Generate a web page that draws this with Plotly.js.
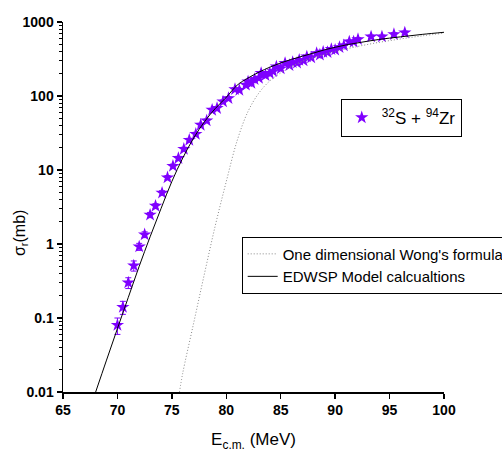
<!DOCTYPE html>
<html>
<head>
<meta charset="utf-8">
<script src="https://cdn.plot.ly/plotly-3.0.1.min.js"></script>
<style>html,body{margin:0;padding:0;background:#fff;}#chart{width:502px;height:452px;}</style>
</head>
<body>
<div id="chart"></div>
<script>
// Experimental data: 32S + 94Zr
var expE = [70.0, 70.5, 71.0, 71.5, 72.0, 72.5, 73.0, 73.5, 74.1, 74.6, 75.1, 75.6, 76.1, 76.6, 77.2, 77.65, 78.2, 78.7, 79.15, 79.7, 80.2, 80.8, 81.2, 81.8, 82.0, 82.3, 82.6, 83.0, 83.2, 83.6, 84.0, 84.3, 84.6, 85.0, 85.4, 85.8, 86.1, 86.5, 86.7, 87.1, 87.4, 87.8, 88.3, 88.6, 88.9, 89.3, 89.65, 90.0, 90.4, 90.8, 91.3, 91.7, 92.1, 93.3, 94.3, 95.4, 96.4];
var expSigma = [0.080, 0.14, 0.30, 0.51, 0.92, 1.34, 2.47, 3.26, 4.9, 7.9, 11.3, 14.4, 19.2, 25.4, 30.6, 40.6, 46.4, 64.7, 68.3, 83.8, 93, 123, 120, 141, 156, 150, 168, 175, 203, 190, 203, 215, 249, 235, 277, 260, 285, 280, 306, 300, 340, 330, 377, 360, 393, 390, 428, 420, 455, 480, 542, 540, 583, 633, 633, 682, 717];
var expErr = [0.02, 0.028, 0.05, 0.08, 0.1, 0.12, 0.2, 0.25, 0.35, 0.5, 0.7, 0.9, 1.1, 1.4, 1.7, 2.2, 2.5, 3.4, 3.6, 4.3, 4.8, 6.2, 6, 7, 8, 7.5, 8.5, 9, 10, 9.5, 10, 11, 12, 12, 14, 13, 14, 14, 15, 15, 17, 16, 19, 18, 20, 19, 21, 21, 23, 24, 27, 27, 29, 32, 32, 34, 36];

// EDWSP model calculations
var edwspE = [68, 69, 70, 71, 72, 73, 74, 75, 76, 77, 78, 79, 80, 81, 82, 83, 84, 85, 86, 87, 88, 89, 90, 91, 92, 94, 96, 98, 100];
var edwspSigma = [0.01, 0.027, 0.072, 0.19, 0.50, 1.25, 3.0, 7.0, 14.5, 27, 45, 68, 96, 140, 175, 210, 245, 280, 313, 345, 380, 420, 455, 490, 520, 580, 630, 680, 726];

// One dimensional Wong's formula
var wongE = [75.7, 76, 77, 78, 79, 80, 81, 82, 83, 84, 85, 86, 87, 88, 89, 90, 92, 94, 96, 98, 100];
var wongSigma = [0.01, 0.018, 0.085, 0.4, 1.8, 7, 25, 62, 110, 160, 205, 250, 295, 330, 365, 400, 465, 530, 590, 650, 705];

var yTickVals = [0.01, 0.1, 1, 10, 100, 1000];
var yTickText = ['0.01', '0.1', '1', '10', '100', '1000'];
var xTickVals = [65, 70, 75, 80, 85, 90, 95, 100];

var purple = '#7f00ff';
var traces = [
  {
    x: expE, y: expSigma, type: 'scatter', mode: 'markers',
    name: '<sup>32</sup>S + <sup>94</sup>Zr',
    marker: {symbol: 'star', size: 10, color: purple, line: {width: 0}},
    error_y: {type: 'data', array: expErr, visible: true, color: purple, thickness: 1, width: 3},
    legend: 'legend'
  },
  {
    x: wongE, y: wongSigma, type: 'scatter', mode: 'lines',
    name: "One dimensional Wong's formula",
    line: {color: '#888', width: 1, dash: '1px,2px', shape: 'spline'},
    legend: 'legend2'
  },
  {
    x: edwspE, y: edwspSigma, type: 'scatter', mode: 'lines',
    name: 'EDWSP Model calcualtions',
    line: {color: '#000', width: 1, shape: 'spline'},
    legend: 'legend2'
  }
];

var fam = 'Liberation Sans, Arial, sans-serif';
var tickFont = {family: fam, size: 14, color: '#000', weight: 'bold'};
var layout = {
  width: 502, height: 452,
  margin: {l: 63, r: 58, t: 22, b: 60, autoexpand: false},
  paper_bgcolor: '#fff', plot_bgcolor: '#fff',
  font: {family: fam, color: '#000'},
  xaxis: {
    range: [65, 100], tickmode: 'array', tickvals: xTickVals,
    ticks: 'outside', ticklen: 5, tickwidth: 1.5, tickcolor: '#000',
    showline: true, linecolor: '#000', linewidth: 1.5, mirror: false,
    showgrid: false, zeroline: false, tickfont: tickFont,
    title: {text: 'E<sub>c.m.</sub> (MeV)', font: {size: 17, family: fam}, standoff: 16}
  },
  yaxis: {
    type: 'log', range: [-2, 3], tickmode: 'array', tickvals: yTickVals, ticktext: yTickText,
    ticks: 'outside', ticklen: 5, tickwidth: 1.5, tickcolor: '#000',
    minor: {dtick: 'D1', ticks: 'outside', ticklen: 3, tickwidth: 1, tickcolor: '#000', showgrid: false},
    showline: true, linecolor: '#000', linewidth: 1.5, mirror: false,
    showgrid: false, zeroline: false, tickfont: tickFont
  },
  annotations: [{
    text: '\u03c3<sub>r</sub>(mb)', textangle: -90, showarrow: false,
    xref: 'paper', yref: 'paper', x: -0.113, y: 0.432, xanchor: 'center', yanchor: 'middle',
    font: {size: 16, family: fam, color: '#000'}
  }],
  showlegend: true,
  legend: {
    x: 0.729, y: 0.792, xanchor: 'left', yanchor: 'top',
    bordercolor: '#000', borderwidth: 1, bgcolor: '#fff',
    font: {size: 17, family: fam, color: '#000'}
  },
  legend2: {
    x: 0.469, y: 0.42, xanchor: 'left', yanchor: 'top',
    bordercolor: '#000', borderwidth: 1, bgcolor: '#fff',
    font: {size: 15, family: fam, color: '#000'},
    tracegroupgap: 0
  }
};

Plotly.newPlot('chart', traces, layout, {displayModeBar: false, staticPlot: true});
</script>
</body>
</html>
